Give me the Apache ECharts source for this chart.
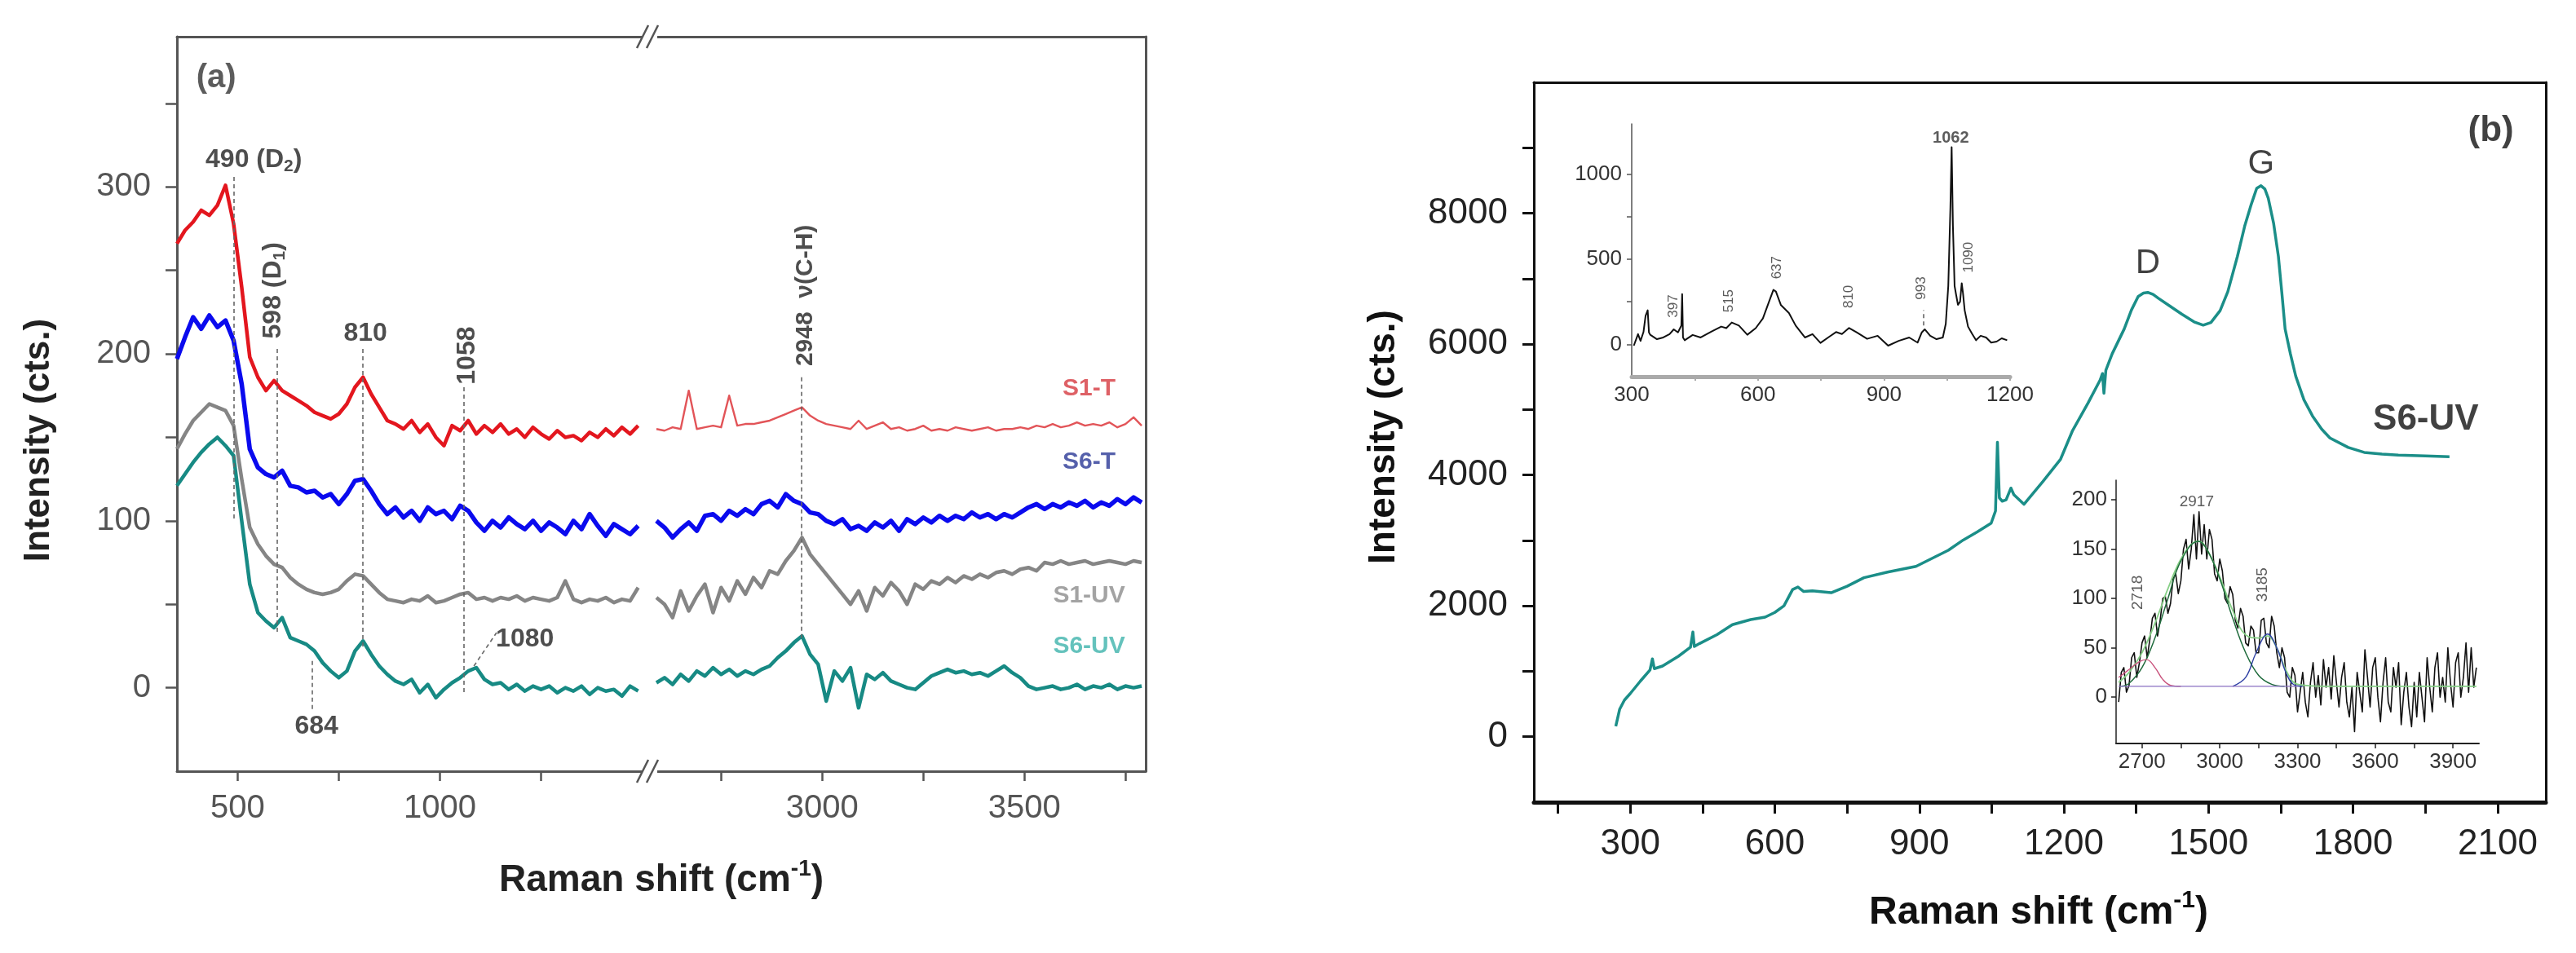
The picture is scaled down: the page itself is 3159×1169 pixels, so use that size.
<!DOCTYPE html>
<html>
<head>
<meta charset="utf-8">
<script src="https://cdn.jsdelivr.net/npm/echarts@6/dist/echarts.min.js"></script>
<style>
html,body{margin:0;padding:0;background:#fff;}
#main{width:3159px;height:1169px;}
</style>
</head>
<body>
<div id="main"></div>
<script>
// ---------- panel (a): Raman spectra, broken x axis ----------
// low-shift segment (cm-1)
var aLowX = [350,370,390,410,430,450,470,490,
  510,530,550,570,590,610,630,650,670,690,
  710,730,750,770,790,810,830,850,870,890,
  910,930,950,970,990,1010,1030,1050,1070,1090,
  1110,1130,1150,1170,1190,1210,1230,1250,1270,1290,
  1310,1330,1350,1370,1390,1410,1430,1450,1470,1490];
var s1tLow = [266,274,279,286,283,289,301,278,
  240,198,186,178,184,178,175,172,169,165,
  163,161,164,170,180,186,176,168,160,158,
  155,160,153,158,150,145,157,154,160,152,
  157,153,158,152,155,150,156,152,149,154,
  150,151,148,153,150,155,151,156,152,157];
var s6tLow = [197,210,222,215,223,216,220,208,
  182,143,132,128,126,130,121,120,117,118,
  114,116,110,116,124,125,118,110,104,108,
  102,106,100,108,104,106,101,109,106,99,
  94,100,96,102,98,95,100,94,99,96,
  92,100,95,104,97,91,98,95,92,97];
var s1uvLow = [143,152,160,165,170,168,166,157,
  125,96,86,79,74,72,66,62,59,57,
  56,57,59,64,68,67,62,57,53,52,
  51,53,52,55,51,52,54,56,57,53,
  54,52,54,53,55,52,54,53,52,54,
  64,53,51,53,52,54,51,53,52,60];
var s6uvLow = [121,128,135,141,146,150,145,139,
  100,62,45,40,36,42,30,28,26,22,
  15,10,6,10,22,28,20,13,8,4,
  2,5,-3,2,-6,-1,3,6,10,12,
  5,2,3,-1,2,-2,1,-1,1,-3,
  0,-2,1,-4,0,-2,-1,-5,1,-2];
// high-shift segment (cm-1)
var aHighX = [2590,2610,2630,2650,2670,2690,2710,2730,2750,2770,
  2790,2810,2830,2850,2870,2890,2910,2930,2950,2970,
  2990,3010,3030,3050,3070,3090,3110,3130,3150,3170,
  3190,3210,3230,3250,3270,3290,3310,3330,3350,3370,
  3390,3410,3430,3450,3470,3490,3510,3530,3550,3570,
  3590,3610,3630,3650,3670,3690,3710,3730,3750,3770,3790];
var s1tHigh = [155,154,156,155,178,155,156,157,156,175,
  157,158,158,159,160,162,164,166,168,163,
  160,158,157,156,155,160,155,157,159,155,
  156,154,155,157,154,155,154,156,155,154,
  155,156,154,155,155,156,155,157,156,158,
  156,157,159,157,158,157,159,156,158,162,157];
var s6tHigh = [100,96,90,95,99,94,103,104,100,106,
  103,107,104,110,112,108,116,112,110,105,
  104,100,98,101,95,97,94,99,96,100,
  94,101,98,102,99,103,100,103,101,105,
  102,104,101,104,102,105,108,110,107,110,
  108,111,109,112,108,111,109,113,110,114,111];
var s1uvHigh = [54,50,42,58,46,55,62,45,60,52,
  64,56,66,60,70,68,76,82,90,80,
  74,68,62,56,50,58,46,60,55,63,
  58,50,62,59,64,62,66,63,67,65,
  68,66,69,70,68,71,72,70,75,74,
  76,74,75,76,74,75,76,75,74,76,75];
var s6uvHigh = [3,6,2,8,4,10,7,12,8,11,
  7,10,8,11,13,18,22,27,31,20,
  14,-8,10,4,12,-12,8,5,9,4,
  2,0,-1,3,7,9,11,9,10,8,
  9,7,10,13,9,6,1,-1,0,1,
  -1,0,2,-1,1,0,2,-1,1,0,1];

// ---------- panel (b): S6-UV ----------
var bX = [270,278,288,300,321,341,346,350,367,400,
  425,430,433,444,480,512,550,580,600,619,
  637,648,660,678,717,750,785,834,893,932,
  960,991,1020,1049,1058,1062,1066,1072,1080,1090,
  1096,1117,1156,1193,1218,1250,1275,1280,1283,1287,
  1300,1325,1340,1354,1365,1374,1385,1396,1420,1445,
  1470,1489,1505,1524,1540,1560,1575,1588,1600,1609,
  1617,1624,1635,1645,1652,1659,1670,1681,1698,1716,
  1735,1752,1790,1823,1860,1894,1950,2000];
var bY = [160,420,560,660,850,1020,1190,1040,1080,1230,
  1368,1600,1380,1425,1560,1713,1790,1828,1900,2000,
  2250,2287,2220,2230,2201,2300,2431,2517,2603,2747,
  2850,3006,3130,3264,3450,4500,3650,3600,3620,3800,
  3700,3552,3897,4241,4680,5100,5450,5550,5250,5600,
  5850,6230,6520,6727,6780,6790,6760,6700,6580,6455,
  6340,6290,6330,6510,6800,7340,7800,8120,8380,8420,
  8370,8230,7850,7340,6800,6230,5850,5510,5150,4900,
  4700,4566,4420,4345,4320,4305,4290,4280];

// upper inset (baseline-corrected 300-1200)
var inTopX = [305,315,321,328,333,338,341,344,360,375,
  390,400,410,418,420,422,426,445,464,490,
  513,525,538,555,575,595,612,628,637,643,
  655,674,690,712,730,749,770,786,800,817,
  835,860,885,910,935,960,980,990,997,1010,
  1025,1040,1047,1053,1058,1061,1064,1068,1071,1076,
  1081,1085,1088,1092,1100,1110,1119,1130,1143,1155,1168,1180,1193];
var inTopY = [-8,60,20,72,168,200,70,56,30,40,
  60,88,70,110,295,40,24,55,40,75,
  104,95,128,110,56,95,152,260,320,310,
  230,184,110,40,60,8,45,72,60,96,
  70,32,50,-8,20,40,10,70,88,50,
  30,40,120,343,800,1158,700,343,300,232,
  250,359,300,200,104,60,24,50,40,10,16,35,24];

// lower inset (C-H region) with fitted components
var inBotX = [2610,2620,2630,2640,2650,2660,2670,2680,2690,2700,
  2710,2720,2730,2740,2750,2760,2770,2780,2790,2800,
  2810,2820,2830,2840,2850,2860,2870,2880,2890,2900,
  2910,2920,2930,2940,2950,2960,2970,2980,2990,3000,
  3010,3020,3030,3040,3050,3060,3070,3080,3090,3100,
  3110,3120,3130,3140,3150,3160,3170,3180,3190,3200,
  3210,3220,3230,3240,3250,3260,3270,3280,3290,3300,
  3310,3320,3330,3340,3350,3360,3370,3380,3390,3400,
  3410,3420,3430,3440,3450,3460,3470,3480,3490,3500,
  3510,3520,3530,3540,3550,3560,3570,3580,3590,3600,
  3610,3620,3630,3640,3650,3660,3670,3680,3690,3700,
  3710,3720,3730,3740,3750,3760,3770,3780,3790,3800,
  3810,3820,3830,3840,3850,3860,3870,3880,3890,3900,
  3910,3920,3930,3940,3950,3960,3970,3980,3990];
var inBotY = [-5,25,30,5,12,40,45,20,35,55,
  62,40,58,80,85,62,78,100,102,85,
  95,120,125,105,118,150,160,130,150,185,
  140,188,145,175,140,170,160,125,118,140,
  128,100,95,112,104,78,70,90,82,55,
  52,72,68,45,45,78,80,55,50,82,
  72,45,30,50,40,5,0,30,22,-15,
  5,25,-5,-20,15,35,0,22,-8,38,
  10,30,-2,42,15,-10,20,35,-5,-20,
  10,-35,25,5,-15,48,20,-10,30,40,
  0,-25,15,40,-5,-15,30,10,35,-28,
  5,25,-10,-30,15,-20,25,0,-25,40,
  10,-15,30,45,0,20,-5,50,15,-10,
  35,45,0,20,55,5,50,10,30];
var fitSumX = [2610,2650,2700,2750,2800,2850,2900,2920,2950,3000,3050,3100,3150,3185,3220,3260,3300,3400,3990];
var fitSumY = [15,25,45,75,110,140,157,158,150,122,88,63,60,62,50,25,13,11,11];
var fit2917X = [2620,2650,2700,2750,2800,2850,2917,2950,3000,3050,3100,3150,3200,3250];
var fit2917Y = [11,14,30,60,100,138,158,150,120,80,45,22,13,11];
var fit2718X = [2610,2650,2690,2718,2750,2780,2810,2850];
var fit2718Y = [20,28,36,38,30,18,12,11];
var fit3185X = [3050,3100,3140,3185,3220,3260,3290,3320];
var fit3185Y = [11,20,45,64,50,22,12,11];
var baseX = [2610,3300];
var baseY = [11,11];

// ---------- ticks ----------
var aLowTicks = [500,750,1000,1250], aLowLabels = [500,1000];
var aHighTicks = [2750,3000,3250,3500,3750], aHighLabels = [3000,3500];
var aYTicks = [0,50,100,150,200,250,300,350], aYLabels = [0,100,200,300];
var bXTicks = [150,300,450,600,750,900,1050,1200,1350,1500,1650,1800,1950,2100];
var bXLabels = [300,600,900,1200,1500,1800,2100];
var bYTicks = [0,1000,2000,3000,4000,5000,6000,7000,8000,9000];
var bYLabels = [0,2000,4000,6000,8000];
var topXTicks = [450,600,750,900,1050,1200], topXLabels = [300,600,900,1200];
var topYTicks = [0,250,500,750,1000], topYLabels = [0,500,1000];
var botXTicks = [2700,2850,3000,3150,3300,3450,3600,3750,3900], botXLabels = [2700,3000,3300,3600,3900];
var botYTicks = [0,50,100,150,200];

var FONT = 'Arial, "Liberation Sans", Helvetica, sans-serif';
var GA = '#555';

// layout (px)
var A_LEFT = 217, A_BREAK = 797, A_RIGHT = 1405, A_TOP = 45, A_BOTTOM = 946;

function zip(xs, ys){
	var out = [];
	for (var i = 0; i < xs.length; i++) { out.push([xs[i], ys[i]]); }
	return out;
}

function plain(v){ return String(v); }

function axis(o){
	// value axis with own ticks/labels lists
	var ax = {
		gridIndex: o.grid, type: 'value', min: o.min, max: o.max, position: o.pos,
		axisLine: {show: true, onZero: false, lineStyle: {color: o.color, width: o.lw}},
		axisTick: {show: !!o.ticks, inside: false, length: o.tl || 12,
			lineStyle: {color: o.color, width: o.tw || 2.5}},
		axisLabel: {show: !!o.labels, margin: o.margin || 20, fontSize: o.fs || 30,
			color: o.lc || '#333', fontFamily: FONT, formatter: plain},
		splitLine: {show: false}
	};
	if (o.ticks) ax.axisTick.customValues = o.ticks;
	if (o.labels) ax.axisLabel.customValues = o.labels;
	return ax;
}

function line(xi, yi, xs, ys, color, width, extra){
	var s = {
		type: 'line', xAxisIndex: xi, yAxisIndex: yi, data: zip(xs, ys),
		showSymbol: false, symbol: 'none', silent: true,
		lineStyle: {color: color, width: width, join: 'round'}
	};
	for (var k in extra) s[k] = extra[k];
	return s;
}

function labels(xi, yi, base, items, marks){
	var s = {
		type: 'scatter', xAxisIndex: xi, yAxisIndex: yi, symbolSize: 1, silent: true, z: 10,
		itemStyle: {color: 'rgba(0,0,0,0)'},
		label: Object.assign({show: true, position: 'inside', fontFamily: FONT, color: '#222',
			fontWeight: 'bold', fontSize: 32}, base),
		data: items.map(function(it){
			return {value: [it[0], it[1]], label: Object.assign({formatter: it[2]}, it[3] || {})};
		})
	};
	if (marks) {
		s.markLine = {
			silent: true, symbol: ['none', 'none'], animation: false,
			label: {show: false},
			lineStyle: {type: [5, 4], color: '#666', width: 1.6},
			data: marks.map(function(m){ return [{coord: [m[0], m[1]]}, {coord: [m[2], m[3]]}]; })
		};
	}
	return s;
}

var subRich = {sub: {fontSize: 21, fontWeight: 'bold', fontFamily: FONT, color: '#222', padding: [16, 0, 0, 0]}};
var rot = {rotate: 90};

var myChart = echarts.init(document.getElementById('main'));

var option = {
	animation: false,
	backgroundColor: '#fff',
	grid: [
		{left: A_LEFT, top: A_TOP, width: A_BREAK - 2 - A_LEFT, height: A_BOTTOM - A_TOP},
		{left: A_BREAK + 3, top: A_TOP, width: A_RIGHT - A_BREAK - 3, height: A_BOTTOM - A_TOP},
		{left: 1881, top: 101, width: 1241, height: 883},
		{left: 2001, top: 152, width: 464, height: 310},
		{left: 2595, top: 589, width: 445, height: 323}
	],
	xAxis: [
		axis({grid: 0, min: 350, max: 1515, pos: 'bottom', color: GA, lw: 3, ticks: aLowTicks, labels: aLowLabels, margin: 26, fs: 40, lc: '#555'}),
		axis({grid: 0, min: 350, max: 1515, pos: 'top', color: GA, lw: 3}),
		axis({grid: 1, min: 2580, max: 3800, pos: 'bottom', color: GA, lw: 3, ticks: aHighTicks, labels: aHighLabels, margin: 26, fs: 40, lc: '#555'}),
		axis({grid: 1, min: 2580, max: 3800, pos: 'top', color: GA, lw: 3}),
		axis({grid: 2, min: 100, max: 2200, pos: 'bottom', color: '#111', lw: 5, ticks: bXTicks, labels: bXLabels, tl: 14, tw: 3, margin: 30, fs: 44, lc: '#222'}),
		axis({grid: 2, min: 100, max: 2200, pos: 'top', color: '#111', lw: 3}),
		axis({grid: 3, min: 300, max: 1200, pos: 'bottom', color: '#aaa', lw: 5, ticks: topXTicks, labels: topXLabels, tl: 5, tw: 2, margin: 10, fs: 26, lc: '#333'}),
		axis({grid: 4, min: 2600, max: 4000, pos: 'bottom', color: '#222', lw: 2, ticks: botXTicks, labels: botXLabels, tl: 6, tw: 1.5, margin: 10, fs: 26, lc: '#333'})
	],
	yAxis: [
		axis({grid: 0, min: -50, max: 390, pos: 'left', color: GA, lw: 3, ticks: aYTicks, labels: aYLabels, tl: 14, margin: 32, fs: 40, lc: '#555'}),
		axis({grid: 1, min: -50, max: 390, pos: 'right', color: GA, lw: 3}),
		axis({grid: 2, min: -1000, max: 10000, pos: 'left', color: '#111', lw: 3, ticks: bYTicks, labels: bYLabels, tl: 14, tw: 3, margin: 32, fs: 44, lc: '#222'}),
		axis({grid: 2, min: -1000, max: 10000, pos: 'right', color: '#111', lw: 3}),
		axis({grid: 3, min: -190, max: 1295, pos: 'left', color: '#555', lw: 1.5, ticks: topYTicks, labels: topYLabels, tl: 6, tw: 1.5, margin: 12, fs: 26, lc: '#333'}),
		axis({grid: 4, min: -47, max: 220, pos: 'left', color: '#222', lw: 1.5, ticks: botYTicks, labels: botYTicks, tl: 6, tw: 1.5, margin: 11, fs: 26, lc: '#333'})
	],
	series: [
		// panel (a) low segment
		line(0, 0, aLowX, s6uvLow, '#178a84', 4.5),
		line(0, 0, aLowX, s1uvLow, '#858585', 4.5),
		line(0, 0, aLowX, s6tLow, '#0a0aee', 5.5),
		line(0, 0, aLowX, s1tLow, '#e3161e', 4.5),
		// panel (a) high segment
		line(2, 1, aHighX, s6uvHigh, '#178a84', 4.5),
		line(2, 1, aHighX, s1uvHigh, '#858585', 4.5),
		line(2, 1, aHighX, s6tHigh, '#0a0aee', 5.5),
		line(2, 1, aHighX, s1tHigh, '#e25458', 2.4),
		labels(0, 0, {}, [
			[447, 365, '(a)', {fontSize: 40, color: '#333'}],
			[540, 316, '490 (D{sub|2})', {rich: subRich}],
			[588, 238, '598 (D{sub|1})', {rotate: 90, rich: subRich}],
			[816, 212, '810'],
			[1068, 199, '1058', rot],
			[695, -23, '684'],
			[1210, 29, '1080']
		], [
			[490, 306, 490, 100],
			[598, 203, 598, 32],
			[810, 203, 810, 24],
			[1058, 180, 1058, -4],
			[684, 16, 684, -14],
			[1084, 13, 1140, 33]
		]),
		labels(2, 1, {fontSize: 30}, [
			[2958, 235, '2948  \u03bd(C-H)', rot],
			[3660, 179, 'S1-T', {color: '#d63a40'}],
			[3660, 135, 'S6-T', {color: '#2a3896'}],
			[3660, 55, 'S1-UV', {color: '#8c8c8c'}],
			[3660, 25, 'S6-UV', {color: '#3db3ab'}]
		], [
			[2948, 186, 2948, 28]
		]),
		// panel (b)
		line(4, 2, bX, bY, '#1b8e88', 3.5),
		labels(4, 2, {fontSize: 42, fontWeight: 'normal', color: '#111'}, [
			[1374, 7230, 'D'],
			[1609, 8750, 'G'],
			[2086, 9260, '(b)', {fontWeight: 'bold', fontSize: 44}],
			[1951, 4850, 'S6-UV', {fontWeight: 'bold', fontSize: 44}]
		]),
		// upper inset
		line(6, 4, inTopX, inTopY, '#111', 2),
		labels(6, 4, {fontSize: 17, fontWeight: 'normal', color: '#333'}, [
			[400, 224, '397', rot],
			[532, 255, '515', rot],
			[645, 451, '637', rot],
			[817, 280, '810', rot],
			[990, 330, '993', rot],
			[1102, 511, '1090', rot],
			[1059, 1210, '1062', {fontWeight: 'bold', fontSize: 20}]
		], [
			[993, 110, 993, 200]
		]),
		// lower inset
		line(7, 5, inBotX, inBotY, '#111', 1.6),
		line(7, 5, fitSumX, fitSumY, '#86cf86', 1.8, {smooth: 0.4}),
		line(7, 5, fit2917X, fit2917Y, '#1f6b3c', 1.5, {smooth: 0.4}),
		line(7, 5, fit2718X, fit2718Y, '#c8507a', 1.4, {smooth: 0.4}),
		line(7, 5, fit3185X, fit3185Y, '#2d3fa3', 1.4, {smooth: 0.4}),
		line(7, 5, baseX, baseY, '#8a70c2', 1.4),
		labels(7, 5, {fontSize: 19, fontWeight: 'normal', color: '#333'}, [
			[2683, 106, '2718', rot],
			[2911, 198, '2917'],
			[3166, 114, '3185', rot]
		])
	],
	graphic: [
		// axis titles
		{type: 'text', x: 48, y: 540, rotation: Math.PI / 2, z: 100,
			style: {text: 'Intensity (cts.)', x: 0, y: 0, align: 'center', verticalAlign: 'middle',
				fontSize: 44, fontWeight: 'bold', fontFamily: FONT, fill: '#222'}},
		{type: 'text', x: 811, y: 1080, z: 100,
			style: {text: 'Raman shift (cm{sup|-1})', x: 0, y: 0, align: 'center', verticalAlign: 'middle',
				fontSize: 46, fontWeight: 'bold', fontFamily: FONT, fill: '#222',
				rich: {sup: {fontSize: 28, fontWeight: 'bold', fontFamily: FONT, fill: '#222', padding: [0, 0, 28, 0]}}}},
		{type: 'text', x: 1697, y: 536, rotation: Math.PI / 2, z: 100,
			style: {text: 'Intensity (cts.)', x: 0, y: 0, align: 'center', verticalAlign: 'middle',
				fontSize: 46, fontWeight: 'bold', fontFamily: FONT, fill: '#111'}},
		{type: 'text', x: 2500, y: 1120, z: 100,
			style: {text: 'Raman shift (cm{sup|-1})', x: 0, y: 0, align: 'center', verticalAlign: 'middle',
				fontSize: 48, fontWeight: 'bold', fontFamily: FONT, fill: '#111',
				rich: {sup: {fontSize: 30, fontWeight: 'bold', fontFamily: FONT, fill: '#111', padding: [0, 0, 30, 0]}}}},
		// axis break marks "//"
		{type: 'rect', shape: {x: A_BREAK - 9, y: A_TOP - 6, width: 18, height: 12}, style: {fill: '#fff'}, z: 100},
		{type: 'rect', shape: {x: A_BREAK - 9, y: A_BOTTOM - 6, width: 18, height: 12}, style: {fill: '#fff'}, z: 100},
		{type: 'line', shape: {x1: A_BREAK - 16, y1: A_TOP + 14, x2: A_BREAK - 2, y2: A_TOP - 14}, style: {stroke: GA, lineWidth: 2.5}, z: 101},
		{type: 'line', shape: {x1: A_BREAK - 4, y1: A_TOP + 14, x2: A_BREAK + 10, y2: A_TOP - 14}, style: {stroke: GA, lineWidth: 2.5}, z: 101},
		{type: 'line', shape: {x1: A_BREAK - 16, y1: A_BOTTOM + 14, x2: A_BREAK - 2, y2: A_BOTTOM - 14}, style: {stroke: GA, lineWidth: 2.5}, z: 101},
		{type: 'line', shape: {x1: A_BREAK - 4, y1: A_BOTTOM + 14, x2: A_BREAK + 10, y2: A_BOTTOM - 14}, style: {stroke: GA, lineWidth: 2.5}, z: 101}
	]
};

myChart.setOption(option);
</script>
</body>
</html>
